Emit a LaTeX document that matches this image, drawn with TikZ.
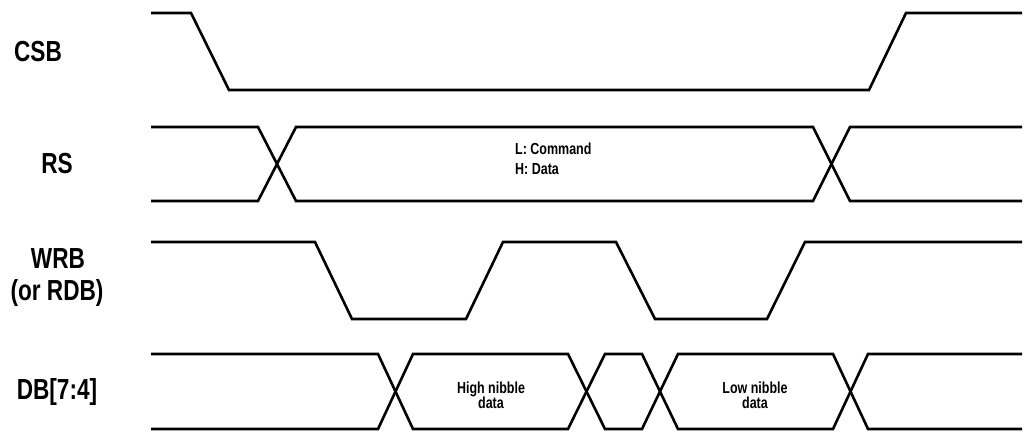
\documentclass[tikz,border=0pt]{standalone}
\usepackage{fontspec}
\setmainfont{Liberation Sans}
\newcommand\narrowtxt[1]{\scalebox{0.78}[1]{#1}}
\begin{document}
\begin{tikzpicture}[x=1pt,y=-1pt,
  wave/.style={line width=2.6pt, line join=miter},
  sig/.style={inner sep=0pt, anchor=base, font=\bfseries\fontsize{29}{31}\selectfont},
  note/.style={inner sep=0pt, anchor=base, font=\bfseries\fontsize{16}{18}\selectfont}]
\useasboundingbox (0,0) rectangle (1028,433);
% labels
\node[sig] (csb) at (38,62) {\narrowtxt{CSB}};
\node[sig] (rs) at (57,173) {\narrowtxt{RS}};
\node[sig] (wrb) at (58,268) {\narrowtxt{WRB}};
\node[sig] (rdb) at (57,300) {\narrowtxt{(or RDB)}};
\node[sig] (db) at (57,399) {\narrowtxt{DB[7:4]}};
% CSB
\draw[wave] (151,13) -- (191,13) -- (229,90) -- (869,90) -- (906,13) -- (1022,13);
% RS
\draw[wave] (151,127) -- (258,127) -- (296,201) -- (813,201) -- (850,127) -- (1022,127);
\draw[wave] (151,201) -- (258,201) -- (296,127) -- (813,127) -- (850,201) -- (1022,201);
\node[note, anchor=base west] (rsl) at (515,155) {\narrowtxt{L: Command}};
\node[note, anchor=base west] (rsh) at (515,175) {\narrowtxt{H: Data}};
% WRB
\draw[wave] (151,242) -- (315,242) -- (352,319) -- (466,319) -- (503,242) -- (616,242)
  -- (655,319) -- (767,319) -- (805,242) -- (1022,242);
% DB
\draw[wave] (151,354) -- (378,354) -- (413,429) -- (568,429) -- (605,354) -- (642,354)
  -- (678,429) -- (833,429) -- (868,354) -- (1022,354);
\draw[wave] (151,429) -- (378,429) -- (413,354) -- (568,354) -- (605,429) -- (642,429)
  -- (678,354) -- (833,354) -- (868,429) -- (1022,429);
\node[note] (hn) at (491,393) {\narrowtxt{High nibble}};
\node[note] (hd) at (491,408) {\narrowtxt{data}};
\node[note] (ln) at (755,393) {\narrowtxt{Low nibble}};
\node[note] (ld) at (755,408) {\narrowtxt{data}};
\end{tikzpicture}
\end{document}
